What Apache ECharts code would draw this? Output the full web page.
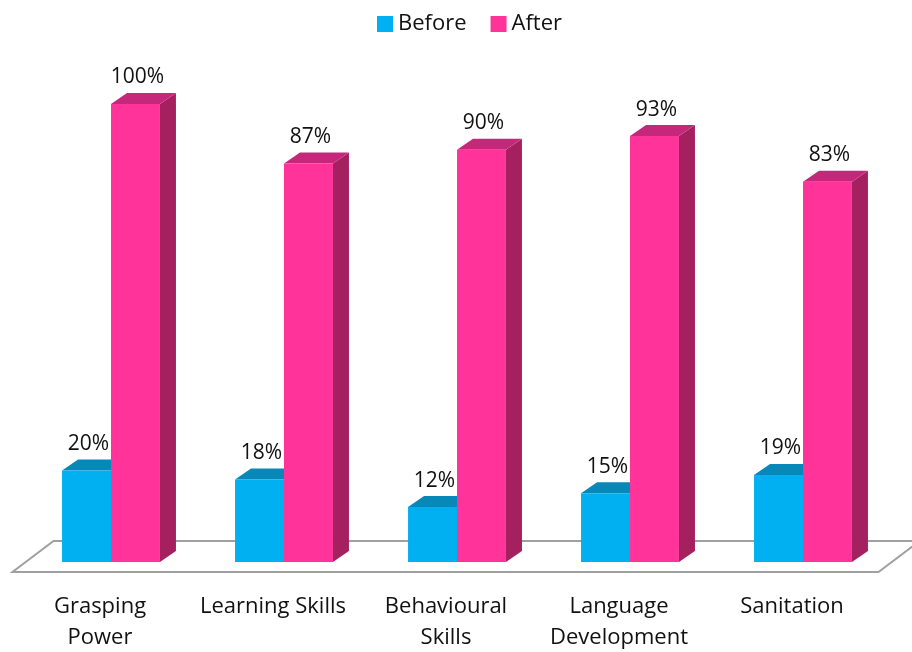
<!DOCTYPE html>
<html>
<head>
<meta charset="utf-8">
<script src="https://cdn.jsdelivr.net/npm/echarts@6/dist/echarts.min.js"></script>
<style>
  html, body { margin: 0; padding: 0; background: #fff; }
  #chart { width: 912px; height: 652px; }
</style>
</head>
<body>
<div id="chart"></div>
<script>
  var categories = ['Grasping\nPower', 'Learning Skills', 'Behavioural\nSkills', 'Language\nDevelopment', 'Sanitation'];
  var beforeValues = [20, 18, 12, 15, 19];
  var afterValues = [100, 87, 90, 93, 83];

  var FONT = 'Open Sans';
  var DX = 16, DY = -11;

  // front, top and side faces of one 3d looking bar
  function barRender(side, front, topColor, sideColor) {
    return function (params, api) {
      var idx = api.value(0);
      var val = api.value(1);
      var base = api.coord([idx, 0]);
      var top = api.coord([idx, val]);
      var bw = api.size([1, 0])[0] * 0.283;
      var x0 = side < 0 ? base[0] - bw : base[0];
      var x1 = x0 + bw;
      var y0 = top[1], y1 = base[1];
      return {
        type: 'group',
        children: [
          { type: 'polygon', shape: { points: [[x1, y0], [x1 + DX, y0 + DY], [x1 + DX, y1 + DY], [x1, y1]] },
            style: { fill: sideColor } },
          { type: 'polygon', shape: { points: [[x0, y0], [x0 + DX, y0 + DY], [x1 + DX, y0 + DY], [x1, y0]] },
            style: { fill: topColor } },
          { type: 'rect', shape: { x: x0, y: y0, width: bw, height: y1 - y0 },
            style: { fill: front } },
          { type: 'text', x: (x0 + x1) / 2 + 2, y: y0 + DY - 5,
            style: { text: val + '%', fill: '#111', font: '21px "' + FONT + '"',
              textAlign: 'center', textVerticalAlign: 'bottom' } }
        ]
      };
    };
  }

  function floorRender(params, api) {
    var cs = params.coordSys;
    var y = cs.y + cs.height + 10;
    var l = cs.x - 12, r = cs.x + cs.width - 11;
    return {
      type: 'polygon',
      shape: { points: [[l, y], [r, y], [r + 41, y - 31], [l + 41, y - 31]] },
      style: { fill: '#fff', stroke: '#a0a0a0', lineWidth: 2 }
    };
  }

  var chart = echarts.init(document.getElementById('chart'));
  chart.setOption({
    animation: false,
    legend: {
      data: ['Before', 'After'],
      top: 8,
      left: 372,
      itemWidth: 16,
      itemHeight: 16,
      itemGap: 24,
      icon: 'rect',
      textStyle: { fontFamily: FONT, fontSize: 22, color: '#111' }
    },
    grid: { left: 24.5, right: 22.5, top: 104, bottom: 90, outerBoundsMode: 'none' },
    xAxis: {
      type: 'category',
      data: categories,
      axisLine: { show: false },
      axisTick: { show: false },
      axisLabel: {
        interval: 0, margin: 29, padding: [0, 22, 0, 0],
        fontFamily: FONT, fontSize: 22, color: '#111', lineHeight: 31
      }
    },
    yAxis: { type: 'value', min: 0, max: 100, show: false, splitLine: { show: false } },
    series: [
      { name: 'floor', type: 'custom', renderItem: floorRender, data: [[0, 0]], silent: true, z: 1 },
      { name: 'Before', type: 'custom', itemStyle: { color: '#00b0f0' }, z: 2,
        renderItem: barRender(-1, '#00b0f0', '#0888b8', '#0a7aa6'),
        data: beforeValues.map(function (v, i) { return [i, v]; }) },
      { name: 'After', type: 'custom', itemStyle: { color: '#ff3399' }, z: 3,
        renderItem: barRender(1, '#ff3399', '#c5287a', '#a5205f'),
        data: afterValues.map(function (v, i) { return [i, v]; }) }
    ]
  });
</script>
</body>
</html>
